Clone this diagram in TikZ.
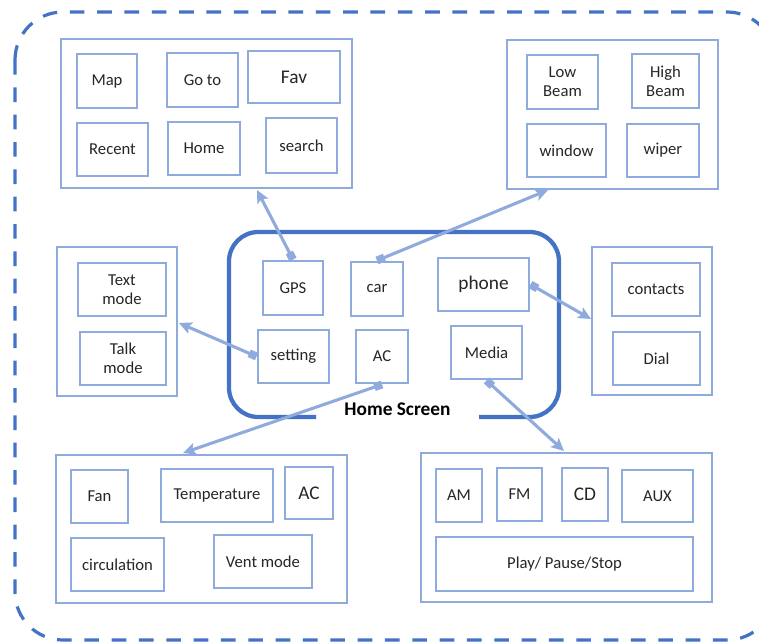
\documentclass[tikz,border=0pt]{standalone}
\usepackage{fontspec}
\setmainfont{Carlito}
\usetikzlibrary{arrows.meta}
\definecolor{lb}{HTML}{8FAADC}
\definecolor{db}{HTML}{4472C4}
\tikzset{
  obox/.style={draw=lb, line width=2.2pt, inner sep=0pt},
  ibox/.style={draw=lb, line width=2.2pt, inner sep=0pt, align=center,
    font=\fontsize{12.5}{14.5}\selectfont, text=black!85},
  bigtext/.style={font=\fontsize{14.5}{16}\selectfont},
  conn/.style={draw=lb, line width=2.3pt,
    {Square[length=6pt,width=6pt]}-{Stealth[length=9.5pt,width=9pt,inset=2pt]}},
  hsframe/.style={draw=db, line width=3.2pt, rounded corners=22pt},
  border/.style={draw=db, line width=2.4pt, dash pattern=on 11pt off 9.5pt},
}
% \bx[options]{name}{x1}{y1}{x2}{y2}{text}
\newcommand\bx[7][]{%
  \node[ibox, #1, minimum width={(#5-#3)*0.75pt}, minimum height={(#6-#4)*0.75pt}]
    (#2) at ({(#3+#5)/2},{(#4+#6)/2}) {#7};}
\newcommand\gbx[5]{%
  \node[obox, minimum width={(#4-#2)*0.75pt}, minimum height={(#5-#3)*0.75pt}]
    (#1) at ({(#2+#4)/2},{(#3+#5)/2}) {};}
\begin{document}
\begin{tikzpicture}[x=0.75pt,y=-0.75pt]
\useasboundingbox (0,0) rectangle (759,642);
\fill[white] (0,0) rectangle (759,642);
% outer dashed border (its right side lies beyond the picture's edge)
\begin{scope}
\clip (0,0) rectangle (759,642);
\draw[border, rounded corners=36pt] (15,12) rectangle (775,640);
\end{scope}

% navigation group
\gbx{nav}{61}{39}{352}{188}
\bx{map}{77}{54}{137}{108}{Map}
\bx{goto}{167}{53}{238}{107}{Go to}
\bx[bigtext]{fav}{248}{51}{340}{103}{Fav}
\bx{recent}{77}{123}{148}{176}{Recent}
\bx{home}{168}{122}{240}{175}{Home}
\bx{search}{266}{118}{337}{173}{search}

% car group
\gbx{cargrp}{507}{40}{718}{189}
\bx{low}{527}{55}{598}{109}{Low\\Beam}
\bx{high}{632}{54}{699}{108}{High\\Beam}
\bx{window}{527}{124}{606}{177}{window}
\bx{wiper}{627}{124}{699}{177}{wiper}

% settings group
\gbx{setgrp}{57}{247}{177}{396}
\bx{textmode}{78}{263}{166}{316}{Text\\mode}
\bx{talkmode}{80}{332}{166}{385}{Talk\\mode}

% phone group
\gbx{phonegrp}{592}{247}{712}{395}
\bx{contacts}{612}{263}{700}{316}{contacts}
\bx{dial}{613}{332}{700}{385}{Dial}

% home screen
\draw[hsframe] (316,417) -- (229,417) -- (229,232) -- (559,232) -- (559,417) -- (479,417);
\node[font=\bfseries\fontsize{14.5}{16}\selectfont, text=black] (hstitle) at (397.5,409) {Home Screen};
\bx{gps}{263}{261}{323}{315}{GPS}
\bx{car}{351}{262}{403}{316}{car}
\bx[bigtext]{phone}{438}{258}{529}{311}{phone}
\bx{setting}{258}{330}{329}{383}{setting}
\bx{ac}{356}{330}{408}{383}{AC}
\bx{media}{451}{326}{522}{379}{Media}

% AC group
\gbx{acgrp}{56}{455}{347}{603}
\bx{fan}{71}{470}{128}{523}{Fan}
\bx{temp}{161}{469}{273}{522}{Temperature}
\bx[bigtext]{acb}{285}{467}{333}{519}{AC}
\bx{circ}{71}{538}{164}{591}{circulation}
\bx{vent}{214}{535}{312}{588}{Vent mode}

% media group
\gbx{mediagrp}{421}{453}{712}{602}
\bx{am}{436}{469}{482}{522}{AM}
\bx{fm}{497}{468}{542}{521}{FM}
\bx[bigtext]{cd}{562}{468}{608}{521}{CD}
\bx{aux}{622}{470}{693}{522}{AUX}
\bx{play}{436}{537}{693}{591}{Play/ Pause/Stop}

% connector end points on group borders
\coordinate (navin) at (257,190);
\coordinate (carin) at (548,190);
\coordinate (phonein) at (591,319);
\coordinate (setin) at (179,323);
\coordinate (acin) at (183,453);
\coordinate (mediain) at (564,451);

\draw[conn] (gps.north) -- (navin);
\draw[conn] (car.north) -- (carin);
\draw[conn] (phone.east) -- (phonein);
\draw[conn] (setting.west) -- (setin);
\draw[conn] (ac.south) -- (acin);
\draw[conn] (media.south) -- (mediain);
\end{tikzpicture}
\end{document}
